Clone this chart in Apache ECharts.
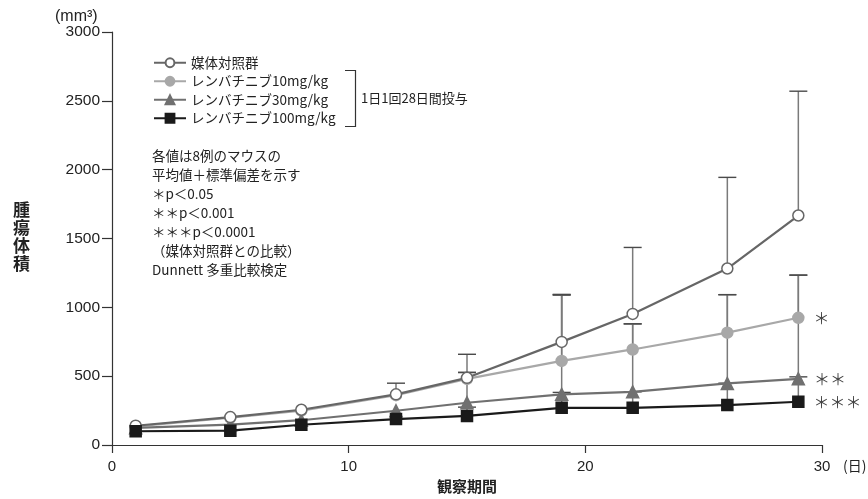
<!DOCTYPE html>
<html>
<head>
<meta charset="utf-8">
<script src="https://cdn.jsdelivr.net/npm/echarts@6/dist/echarts.min.js"></script>
<style>html,body{margin:0;padding:0;background:#fff}#c{width:868px;height:499px}</style>
</head>
<body>
<div id="c"></div>
<script>
// ---- data ----
const days = [1, 5, 8, 12, 15, 19, 22, 26, 29];
const seriesNames = ['媒体対照群', 'レンバチニブ10mg/kg', 'レンバチニブ30mg/kg', 'レンバチニブ100mg/kg'];
const vehicleMean = [140, 203, 256, 368, 488, 749, 952, 1282, 1667];
const vehicleUpper = [null, null, null, 449, 659, 1094, 1435, 1944, 2570];
const lenva10Mean = [135, 198, 250, 362, 480, 611, 694, 816, 924];
const lenva10Upper = [null, null, null, null, 527, 1090, 880, 1092, 1234];
const lenva30Mean = [125, 148, 180, 249, 307, 368, 386, 447, 481];
const lenva30Upper = [null, null, null, null, 527, 1090, 880, 1092, 1234];
const lenva100Mean = [100, 104, 147, 188, 211, 270, 270, 290, 314];
const lenva100Upper = [null, null, null, null, 275, 382, 386, 449, 495];
const sigMarks = ['', '＊', '＊＊', '＊＊＊'];
const yTicks = [0, 500, 1000, 1500, 2000, 2500, 3000];
const xTicks = [0, 10, 20, 30];
const noteLines = ['各値は8例のマウスの', '平均値＋標準偏差を示す', '＊p＜0.05', '＊＊p＜0.001', '＊＊＊p＜0.0001', '（媒体対照群との比較）', 'Dunnett 多重比較検定'];

const JP = '"Noto Sans CJK JP", "Noto Sans", sans-serif';
const NUM = '"Liberation Sans", Arial, sans-serif';

const means = [vehicleMean, lenva10Mean, lenva30Mean, lenva100Mean];
const uppers = [vehicleUpper, lenva10Upper, lenva30Upper, lenva100Upper];
const styles = [
  {symbol: 'circle', size: 11, line: '#666666', fill: '#ffffff', border: '#666666', z: 5},
  {symbol: 'circle', size: 11, line: '#a8a8a8', fill: '#a8a8a8', border: '#a8a8a8', z: 3},
  {symbol: 'triangle', size: 12, line: '#707070', fill: '#707070', border: '#707070', z: 4},
  {symbol: 'rect', size: 11, line: '#1a1a1a', fill: '#1a1a1a', border: '#1a1a1a', z: 6}
];

function errRender(params, api) {
  const x = api.value(0), m = api.value(1), u = api.value(2);
  const p0 = api.coord([x, m]);
  const p1 = api.coord([x, u]);
  return {
    type: 'group',
    children: [
      {type: 'line', shape: {x1: p0[0], y1: p0[1], x2: p1[0], y2: p1[1]}, style: {stroke: '#7a7a7a', lineWidth: 1.5}},
      {type: 'line', shape: {x1: p1[0] - 9, y1: p1[1], x2: p1[0] + 9, y2: p1[1]}, style: {stroke: '#4a4a4a', lineWidth: 1.4}}
    ]
  };
}

const series = [];
means.forEach((arr, k) => {
  series.push({
    type: 'custom',
    name: 'err' + k,
    renderItem: errRender,
    encode: {x: 0, y: [1, 2]},
    z: 1,
    silent: true,
    data: days.map((d, i) => uppers[k][i] == null ? null : [d, arr[i], uppers[k][i]]).filter(v => v)
  });
});
means.forEach((arr, k) => {
  const s = styles[k];
  series.push({
    type: 'line',
    name: seriesNames[k],
    symbol: s.symbol,
    symbolSize: s.size,
    z: s.z,
    lineStyle: {color: s.line, width: 2.2},
    itemStyle: {color: s.fill, borderColor: s.border, borderWidth: 1.5},
    data: days.map((d, i) => {
      const item = {value: [d, arr[i]]};
      if (i === days.length - 1 && sigMarks[k]) {
        item.label = {show: true, position: 'right', distance: 9, formatter: sigMarks[k],
          fontFamily: JP, fontSize: 16, color: '#444'};
      }
      return item;
    })
  });
});

const chart = echarts.init(document.getElementById('c'), null, {renderer: 'canvas'});
chart.setOption({
  animation: false,
  backgroundColor: '#fff',
  grid: {left: 112, right: 46, top: 32, bottom: 53, containLabel: false},
  xAxis: {
    type: 'value', min: xTicks[0], max: xTicks[xTicks.length - 1], interval: 10,
    name: '観察期間', nameLocation: 'middle', nameGap: 34,
    nameTextStyle: {fontFamily: JP, fontSize: 15, fontWeight: 'bold', color: '#222'},
    axisLine: {lineStyle: {color: '#333', width: 1.2}},
    axisTick: {show: true, length: 8, lineStyle: {color: '#333', width: 1.2}},
    axisLabel: {fontFamily: NUM, fontSize: 15, color: '#222', margin: 14, formatter: v => String(v)},
    splitLine: {show: false}
  },
  yAxis: {
    type: 'value', min: yTicks[0], max: yTicks[yTicks.length - 1], interval: 500,
    axisLine: {show: true, lineStyle: {color: '#333', width: 1.2}},
    axisTick: {show: true, length: 10, lineStyle: {color: '#333', width: 1.2}},
    axisLabel: {fontFamily: NUM, fontSize: 15.5, color: '#222', margin: 12, formatter: v => String(v)},
    splitLine: {show: false}
  },
  legend: {
    data: seriesNames,
    orient: 'vertical',
    left: 148, top: 51,
    itemWidth: 32, itemHeight: 11, itemGap: 5,
    textStyle: {fontFamily: JP, fontSize: 13.5, color: '#222'},
    selectedMode: false
  },
  graphic: [
    {type: 'text', left: 55, top: 9, style: {text: '(mm³)', fontFamily: NUM, fontSize: 16, fill: '#222'}},
    {type: 'text', left: 13, top: 201, style: {text: '腫\n瘍\n体\n積', fontFamily: JP, fontSize: 17, fontWeight: 'bold', lineHeight: 18, fill: '#222'}},
    {type: 'text', left: 843, top: 459, style: {text: '(日)', fontFamily: JP, fontSize: 14, fill: '#222'}},
    {type: 'polyline', shape: {points: [[345, 70.5], [355.5, 70.5], [355.5, 126.5], [345, 126.5]]}, style: {stroke: '#333', lineWidth: 1.2, fill: null}},
    {type: 'text', left: 361, top: 92, style: {text: '1日1回28日間投与', fontFamily: JP, fontSize: 13, fill: '#222'}},
    {type: 'text', left: 152, top: 146, style: {text: noteLines.join('\n'), fontFamily: JP, fontSize: 13.5, lineHeight: 19, fill: '#222'}}
  ],
  series: series
});
</script>
</body>
</html>
